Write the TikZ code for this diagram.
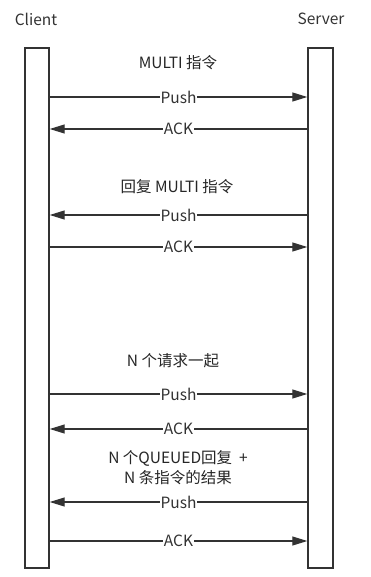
\documentclass[tikz,border=0pt]{standalone}
\usepackage{fontspec}
\setmainfont{Noto Sans CJK SC}
\usetikzlibrary{arrows.meta,positioning,calc}

\begin{document}
\begin{tikzpicture}[x=1pt, y=-1pt,
  bar/.style={draw=black!80, line width=1.4pt, fill=white, minimum width=24pt,
              minimum height=520pt, inner sep=0pt},
  arr/.style={-{Triangle[length=15pt, width=9pt]}, line width=1.1pt, draw=black!80},
  lbl/.style={fill=white, inner sep=0.5pt, font=\fontsize{15.5}{17}\selectfont, text=black!80},
  msg/.style={align=center, font=\fontsize{15.5}{20}\selectfont, text=black!85},
  head/.style={font=\fontsize{15.5}{17}\selectfont, text=black!80}]
\useasboundingbox (0,0) rectangle (370,577);

\node[head] (client) at (36,19) {Client};
\node[head] (server) at (321,19) {Server};
\node[bar] (cbar) at (37,308) {};
\node[bar, minimum width=25pt] (sbar) at (320.5,308) {};

% message heights
\coordinate (m1) at (0,97);
\coordinate (m2) at (0,129);
\coordinate (m3) at (0,215);
\coordinate (m4) at (0,247);
\coordinate (m5) at (0,394);
\coordinate (m6) at (0,429);
\coordinate (m7) at (0,502);
\coordinate (m8) at (0,541);

\node[msg] (t1) at (178,63) {MULTI 指令};
\node[msg] (t2) at (177,187) {回复 MULTI 指令};
\node[msg] (t3) at (173,361) {N 个请求一起};
\node[msg] (t4) at (178,468) {N 个QUEUED回复 \ +\\ N 条指令的结果};

\draw[arr] (cbar.east |- m1) -- node[lbl] {Push} (sbar.west |- m1);
\draw[arr] (sbar.west |- m2) -- node[lbl] {ACK} (cbar.east |- m2);
\draw[arr] (sbar.west |- m3) -- node[lbl] {Push} (cbar.east |- m3);
\draw[arr] (cbar.east |- m4) -- node[lbl] {ACK} (sbar.west |- m4);
\draw[arr] (cbar.east |- m5) -- node[lbl] {Push} (sbar.west |- m5);
\draw[arr] (sbar.west |- m6) -- node[lbl] {ACK} (cbar.east |- m6);
\draw[arr] (sbar.west |- m7) -- node[lbl] {Push} (cbar.east |- m7);
\draw[arr] (cbar.east |- m8) -- node[lbl] {ACK} (sbar.west |- m8);
\end{tikzpicture}
\end{document}
